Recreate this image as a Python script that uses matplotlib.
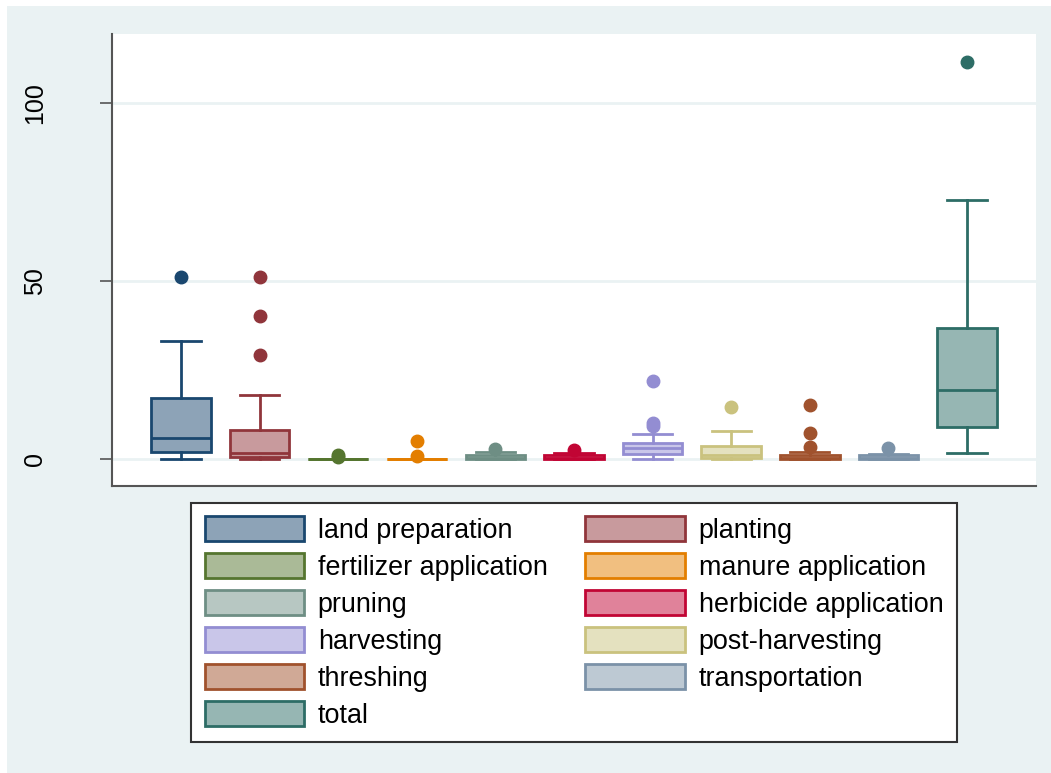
import matplotlib
matplotlib.use("Agg")
import matplotlib.pyplot as plt
from matplotlib.patches import Patch, Rectangle
from matplotlib.colors import to_rgb

plt.rcParams['font.family'] = ['Liberation Sans', 'DejaVu Sans']

# box plot summaries
labels = ["land preparation", "planting", "fertilizer application", "manure application",
          "pruning", "herbicide application", "harvesting", "post-harvesting",
          "threshing", "transportation", "total"]
whislo = [0, 0, 0, 0, 0, 0, 0, 0, 0, 0, 1.7]
q1 = [2.0, 0.5, 0, 0, 0, 0, 1.4, 0.3, 0, 0, 9.0]
med = [5.9, 1.8, 0, 0, 0.3, 0.3, 3.0, 1.2, 0.3, 0.3, 19.4]
q3 = [17.1, 8.1, 0, 0, 1.0, 1.0, 4.5, 3.6, 1.0, 1.0, 36.8]
whishi = [33.1, 18.0, 0, 0, 2.0, 1.7, 7.0, 7.9, 1.9, 1.5, 72.8]
fliers = [[51.1], [51.1, 40.2, 29.2], [0.6, 1.2], [0.9, 5.1], [2.7], [2.5],
          [9.2, 10.2, 22.0], [14.6], [3.3, 7.3, 15.2], [3.2], [111.6]]
colors = ["#1a476f", "#90353b", "#55752f", "#e37e00", "#6e8e84", "#c10534",
          "#938dd2", "#cac27e", "#a0522d", "#7b92a8", "#2d6d66"]

yticks = [0, 50, 100]
bg = "#eaf2f3"


def lighten(c, f=0.5):
    r, g, b = to_rgb(c)
    return (1 - f * (1 - r), 1 - f * (1 - g), 1 - f * (1 - b))


W, H = 1051, 773
fig = plt.figure(figsize=(W / 100, H / 100), dpi=100, facecolor="white")
fig.patches.append(Rectangle((7 / W, 0), 1, 1 - 6 / H, transform=fig.transFigure,
                             facecolor=bg, edgecolor="none", zorder=-10))

ax = fig.add_axes([112 / W, 1 - 486 / H, 924 / W, (486 - 34) / H])
ax.set_facecolor("white")

positions = list(range(1, len(labels) + 1))
for i, pos in enumerate(positions):
    st = [dict(med=med[i], q1=q1[i], q3=q3[i], whislo=whislo[i], whishi=whishi[i],
               fliers=fliers[i], label=labels[i])]
    c = colors[i]
    ax.bxp(st, positions=[pos], widths=0.76, capwidths=0.5, patch_artist=True,
           boxprops=dict(facecolor=lighten(c), edgecolor=c, linewidth=2),
           medianprops=dict(color=c, linewidth=2),
           whiskerprops=dict(color=c, linewidth=2),
           capprops=dict(color=c, linewidth=2),
           flierprops=dict(marker="o", markerfacecolor=c, markeredgecolor=c,
                           markersize=9, linestyle="none"),
           zorder=3)

ax.set_xlim(0.122, 11.878)
ax.set_ylim(-7.58, 119.38)
ax.set_xticks([])
ax.set_yticks(yticks)
ax.set_yticklabels([str(t) for t in yticks])
ax.tick_params(axis="y", length=9, width=1.2, color="#555555", pad=38,
               labelsize=18, labelrotation=90)
for t in ax.get_yticklabels():
    t.set_va("center")
ax.yaxis.grid(True, color=bg, linewidth=2)
ax.set_axisbelow(True)
for s in ["top", "right"]:
    ax.spines[s].set_visible(False)
for s in ["left", "bottom"]:
    ax.spines[s].set_color("#555555")
    ax.spines[s].set_linewidth(1.5)

handles = [Patch(facecolor=lighten(c), edgecolor=c, linewidth=2) for c in colors]
# matplotlib fills legend columns first, so reorder to read row by row
order = [0, 2, 4, 6, 8, 10, 1, 3, 5, 7, 9]
leg = fig.legend([handles[k] for k in order], [labels[k] for k in order],
                 ncol=2, loc="upper center", bbox_to_anchor=(574 / W, 1 - 503 / H),
                 borderaxespad=0, fontsize=19.4, handlelength=3.7, handleheight=1.0,
                 handletextpad=0.5, columnspacing=1.4, labelspacing=0.36, borderpad=0.5,
                 fancybox=False, framealpha=1, edgecolor="#333333")
leg.get_frame().set_linewidth(1.5)

fig.savefig("out.png", dpi=100, facecolor=fig.get_facecolor())
